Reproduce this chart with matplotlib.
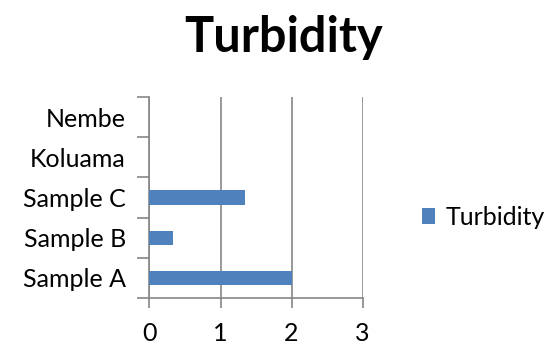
import matplotlib
matplotlib.use("Agg")
import matplotlib.pyplot as plt
from matplotlib.patches import Patch

plt.rcParams['font.family'] = ['Lato', 'DejaVu Sans']

# Turbidity readings per sampling site
sites = ['Sample A', 'Sample B', 'Sample C', 'Koluama', 'Nembe']
turbidity = [2.0, 0.33, 1.35, 0.0, 0.0]
x_ticks = [0, 1, 2, 3]

fig = plt.figure(figsize=(5.52, 3.45), dpi=100)
ax = fig.add_axes([0.2708, 0.1362, 0.3862, 0.5826])

bar_color = '#4F81BD'
grid_color = '#868686'
ypos = range(len(sites))
ax.barh(ypos, turbidity, height=0.35, color=bar_color, zorder=3)

ax.set_xlim(0, 3)
ax.set_ylim(-0.5, len(sites) - 0.5)
ax.set_xticks(x_ticks)
ax.set_xticklabels([str(t) for t in x_ticks], fontsize=18)
ax.set_yticks(list(ypos))
ax.set_yticklabels(sites, fontsize=18)

# category boundary ticks on the y axis, like an Excel chart
ax.set_yticks([i - 0.5 for i in range(len(sites) + 1)], minor=True)
ax.tick_params(axis='y', which='major', length=0, pad=17)
ax.tick_params(axis='y', which='minor', length=9, color=grid_color, width=1.2)
ax.tick_params(axis='x', length=7, color=grid_color, width=1.2, pad=10)

ax.grid(axis='x', color=grid_color, linewidth=1.2, zorder=0)
for side in ('top', 'right'):
    ax.spines[side].set_visible(False)
for side in ('left', 'bottom'):
    ax.spines[side].set_color(grid_color)
    ax.spines[side].set_linewidth(1.2)

fig.text(0.513, 0.89, 'Turbidity', fontsize=35, fontweight='bold',
         ha='center', va='center')

handle = Patch(facecolor=bar_color, label='Turbidity')
fig.legend(handles=[handle], loc='center left', bbox_to_anchor=(0.723, 0.37),
           frameon=False, fontsize=18, handlelength=0.55, handleheight=0.55,
           handletextpad=0.4)

fig.savefig('out.png', dpi=100)
